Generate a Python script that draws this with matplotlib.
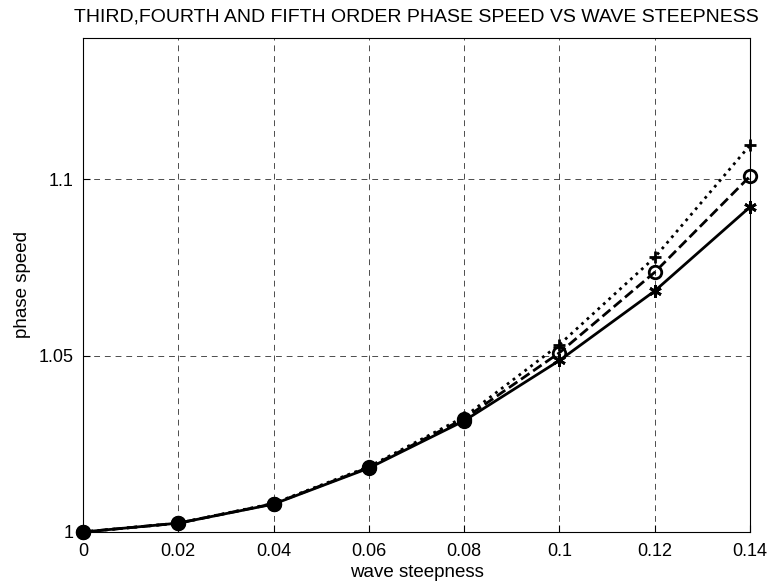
import matplotlib.pyplot as plt

steepness = [0, 0.02, 0.04, 0.06, 0.08, 0.10, 0.12, 0.14]
speed_third = [1.0, 1.0025, 1.0081, 1.0185, 1.0326, 1.0531, 1.0778, 1.1096]
speed_fourth = [1.0, 1.0025, 1.0080, 1.0183, 1.0321, 1.0508, 1.0736, 1.1008]
speed_fifth = [1.0, 1.0025, 1.0079, 1.0181, 1.0315, 1.0486, 1.0683, 1.0921]
xtick_labels = ['0', '0.02', '0.04', '0.06', '0.08', '0.1', '0.12', '0.14']

plt.rcParams['font.family'] = ['Liberation Sans', 'DejaVu Sans']

fig = plt.figure(figsize=(7.7, 5.86), dpi=100)
ax = fig.add_axes([0.1078, 0.0922, 0.8662, 0.843])

ax.plot(steepness, speed_third, color='black', linestyle=':', linewidth=2,
        marker='+', markersize=9, markeredgewidth=2, clip_on=False)
ax.plot(steepness, speed_fourth, color='black', linestyle='--', linewidth=2,
        marker='o', markersize=9, markeredgewidth=2, markerfacecolor='none',
        clip_on=False)
ax.plot(steepness, speed_fifth, color='black', linestyle='-', linewidth=2,
        marker=(6, 2, 0), markersize=9, markeredgewidth=2, clip_on=False)
# markers pile up into solid dots where the curves coincide
ax.plot(steepness[:5], speed_fifth[:5], linestyle='none', marker='o',
        markersize=10, color='black', clip_on=False)

ax.set_xlim(0, 0.14)
ax.set_ylim(1, 1.14)
ax.set_xticks(steepness)
ax.set_xticklabels(xtick_labels)
ax.set_yticks([1, 1.05, 1.1])
ax.set_yticklabels(['1', '1.05', '1.1'])
ax.tick_params(direction='in', labelsize=13, length=5)
ax.tick_params(axis='x', pad=8)
ax.tick_params(axis='y', pad=7)
ax.grid(True, color='black', linestyle=(0, (6, 5)), linewidth=0.7, alpha=0.7)
for s in ax.spines.values():
    s.set_linewidth(0.8)

ax.set_title('THIRD,FOURTH AND FIFTH ORDER PHASE SPEED VS WAVE STEEPNESS',
             fontsize=14, pad=12)
ax.set_xlabel('wave steepness', fontsize=13.5, labelpad=3)
ax.set_ylabel('phase speed', fontsize=13.5, labelpad=5)

fig.savefig('out.png', dpi=100)
